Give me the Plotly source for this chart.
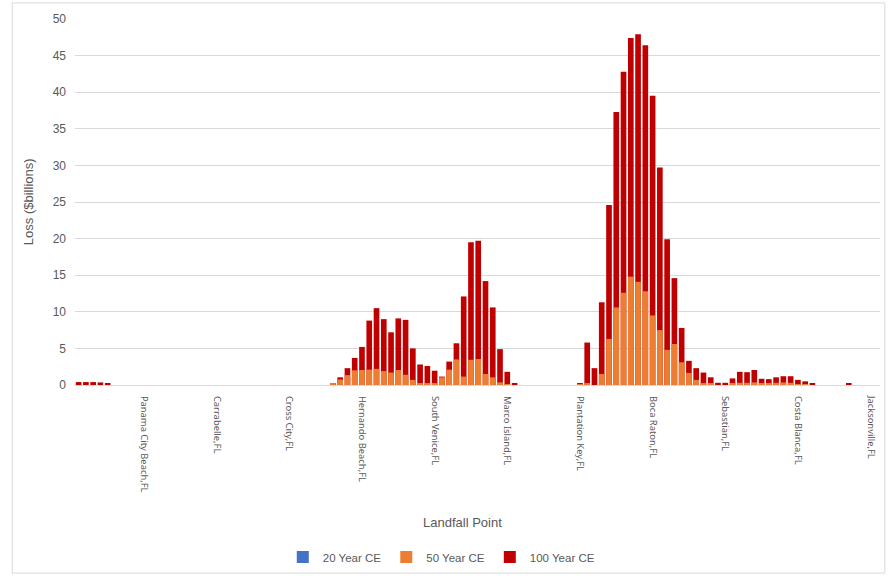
import plotly.graph_objects as go

# Landfall point names shown on the axis (one label every 10 landfall points)
landfall_labels = ["Panama City Beach,FL", "Carrabelle,FL", "Cross City,FL",
                   "Hernando Beach,FL", "South Venice,FL", "Marco Island,FL",
                   "Plantation Key,FL", "Boca Raton,FL", "Sebastian,FL",
                   "Costa Blanca,FL", "Jacksonville,FL"]
label_first = 9
label_step = 10

# Loss ($billions) per landfall point, 110 points
loss_20 = [0.0] * 110

loss_50 = [0, 0, 0, 0, 0, 0, 0, 0, 0, 0,
           0, 0, 0, 0, 0, 0, 0, 0, 0, 0,
           0, 0, 0, 0, 0, 0, 0, 0, 0, 0,
           0, 0, 0, 0, 0, 0.25, 0.75, 1.35, 2.0, 2.05,
           2.1, 2.2, 1.9, 1.7, 2.05, 1.4, 0.7, 0.25, 0.2, 0.2,
           1.05, 2.1, 3.5, 1.15, 3.45, 3.55, 1.5, 1.05, 0.36, 0.1,
           0, 0, 0, 0, 0, 0, 0, 0, 0, 0.05,
           0.15, 0, 1.5, 6.3, 10.6, 12.6, 14.8, 14.1, 12.8, 9.5,
           7.5, 4.8, 5.6, 3.1, 1.65, 0.7, 0.25, 0.15, 0, 0,
           0.15, 0.3, 0.3, 0.35, 0.25, 0.15, 0.3, 0.35, 0.3, 0.1,
           0.05, 0, 0, 0, 0, 0, 0, 0, 0, 0]

loss_100 = [0.4, 0.4, 0.4, 0.35, 0.2, 0, 0, 0, 0, 0,
            0, 0, 0, 0, 0, 0, 0, 0, 0, 0,
            0, 0, 0, 0, 0, 0, 0, 0, 0, 0,
            0, 0, 0, 0, 0, 0.25, 1.05, 2.3, 3.7, 5.2,
            8.8, 10.5, 9.0, 7.2, 9.1, 8.9, 5.0, 2.8, 2.6, 1.95,
            1.15, 3.2, 5.7, 12.1, 19.5, 19.7, 14.2, 10.6, 4.9, 1.8,
            0.15, 0, 0, 0, 0, 0, 0, 0, 0, 0.2,
            5.8, 2.3, 11.3, 24.6, 37.3, 42.8, 47.4, 47.9, 46.4, 39.5,
            29.7, 19.9, 14.6, 7.8, 3.3, 2.3, 1.7, 1.05, 0.3, 0.3,
            0.9, 1.8, 1.75, 2.05, 0.85, 0.8, 1.05, 1.2, 1.2, 0.7,
            0.5, 0.2, 0, 0, 0, 0, 0.15, 0, 0, 0]

y_ticks = [0, 5, 10, 15, 20, 25, 30, 35, 40, 45, 50]

x = list(range(len(loss_100)))
tickvals = [label_first + label_step * k for k in range(len(landfall_labels))]

fig = go.Figure()
fig.add_trace(go.Bar(x=x, y=loss_20, name="20 Year CE", marker_color="#4472C4",
                     legendrank=1))
fig.add_trace(go.Bar(x=x, y=loss_100, name="100 Year CE", marker_color="#C00000",
                     legendrank=3))
fig.add_trace(go.Bar(x=x, y=loss_50, name="50 Year CE", marker_color="#ED7D31",
                     legendrank=2))

grey = "#595959"
fig.update_layout(
    width=889, height=576, autosize=False,
    margin=dict(l=75, r=9, t=19, b=191, autoexpand=False),
    paper_bgcolor="white", plot_bgcolor="white",
    barmode="overlay", bargap=0.22,
    font=dict(family="Liberation Sans", color=grey, size=12),
    showlegend=True,
    legend=dict(orientation="h", x=0.455, xanchor="center", y=-0.47, yanchor="middle",
                font=dict(size=11.5, family="Liberation Sans", color=grey),
                itemwidth=30, traceorder="normal"),
)
fig.update_traces(marker_line_width=0, opacity=1)
fig.update_xaxes(range=[-0.5, 110.3], tickmode="array", tickvals=tickvals,
                 ticktext=landfall_labels, tickangle=90, automargin=False,
                 tickfont=dict(family="Noto Sans", size=9.4, color=grey),
                 showgrid=False, zeroline=False, showline=True, linecolor="#D9D9D9",
                 ticks="", ticklabelstandoff=8)
fig.update_yaxes(range=[0, 50], tickmode="array", tickvals=y_ticks, automargin=False,
                 tickfont=dict(family="Liberation Sans", size=12, color=grey),
                 showgrid=True, gridcolor="#D9D9D9", gridwidth=1,
                 zeroline=False, showline=False, ticks="", ticklabelstandoff=8)

fig.add_annotation(text="Loss ($billions)", xref="paper", yref="paper",
                   x=-0.07, y=0.5, textangle=-90, showarrow=False,
                   font=dict(size=13, color=grey, family="Liberation Sans"))
fig.add_annotation(text="Landfall Point", xref="paper", yref="paper",
                   x=0.481, y=-0.401, showarrow=False,
                   font=dict(size=13, color=grey, family="Liberation Sans"))
fig.add_shape(type="rect", xref="paper", yref="paper",
              x0=-0.078, x1=1.006, y0=-0.514, y1=1.044,
              line=dict(color="#D9D9D9", width=1), fillcolor="rgba(0,0,0,0)")

fig.write_html("out.html", config={"displayModeBar": False},
               post_script="document.body.style.margin='0px';")
